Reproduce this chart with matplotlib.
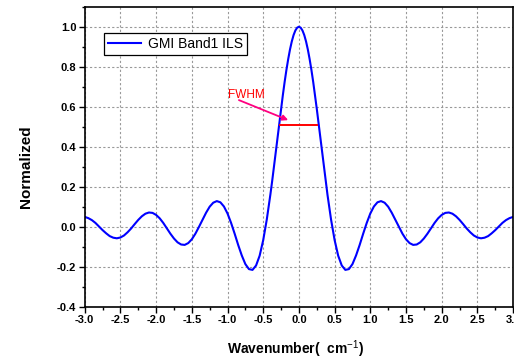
import numpy as np
import matplotlib
matplotlib.use("Agg")
import matplotlib.pyplot as plt
from matplotlib.ticker import MultipleLocator, FormatStrFormatter

plt.rcParams['font.family'] = ['Liberation Sans', 'DejaVu Sans']
plt.rcParams['mathtext.fontset'] = 'custom'
plt.rcParams['mathtext.rm'] = 'Liberation Sans'
plt.rcParams['mathtext.bf'] = 'Liberation Sans:bold'

# instrument line shape, sampled every 0.05 cm-1 from -3 to 3
wavenumber = np.linspace(-3.0, 3.0, 121)
ils = [0.049, 0.043, 0.033, 0.019, 0.001, -0.017, -0.033, -0.047, -0.055, -0.058,
       -0.054, -0.044, -0.028, -0.009, 0.013, 0.034, 0.052, 0.065, 0.071, 0.069,
       0.059, 0.042, 0.019, -0.008, -0.035, -0.059, -0.078, -0.089, -0.091, -0.082,
       -0.063, -0.035, -0.001, 0.035, 0.070, 0.100, 0.120, 0.128, 0.122, 0.101,
       0.066, 0.019, -0.035, -0.092, -0.144, -0.187, -0.212, -0.216, -0.194, -0.145,
       -0.067, 0.036, 0.160, 0.299, 0.445, 0.590, 0.724, 0.838, 0.926, 0.981,
       1.000,
       0.981, 0.926, 0.838, 0.724, 0.590, 0.445, 0.299, 0.160, 0.036, -0.067,
       -0.145, -0.194, -0.216, -0.212, -0.187, -0.144, -0.092, -0.035, 0.019, 0.066,
       0.101, 0.122, 0.128, 0.120, 0.100, 0.070, 0.035, -0.001, -0.035, -0.063,
       -0.082, -0.091, -0.089, -0.078, -0.059, -0.035, -0.008, 0.019, 0.042, 0.059,
       0.069, 0.071, 0.065, 0.052, 0.034, 0.013, -0.009, -0.028, -0.044, -0.054,
       -0.058, -0.055, -0.047, -0.033, -0.017, 0.001, 0.019, 0.033, 0.043, 0.049]

# extra samples on the central peak (in between the 0.05 grid)
peak_x = [-0.375, -0.325, -0.275, -0.225, -0.175, -0.125, -0.075, -0.025,
          0.025, 0.075, 0.125, 0.175, 0.225, 0.275, 0.325, 0.375]
peak_y = [0.227, 0.372, 0.518, 0.658, 0.784, 0.886, 0.958, 0.995,
          0.995, 0.958, 0.886, 0.784, 0.658, 0.518, 0.372, 0.227]

# FWHM marker
fwhm_x = [-0.26, 0.26]
fwhm_y = [0.51, 0.51]

x_all = np.concatenate([wavenumber, peak_x])
y_all = np.concatenate([ils, peak_y])
order = np.argsort(x_all)
x_all, y_all = x_all[order], y_all[order]

fig = plt.figure(figsize=(5.14, 3.59), dpi=100)
ax = fig.add_axes([0.1648, 0.1457, 0.8335, 0.8356])

ax.plot(x_all, y_all, color='#0000ff', lw=1.5, label='GMI Band1 ILS')
ax.plot(fwhm_x, fwhm_y, color='#ff0000', lw=1.4)
ax.annotate('', xy=(-0.15, 0.533), xytext=(-0.84, 0.633),
            arrowprops=dict(arrowstyle='-|>', color='#ff0080', lw=1.3,
                            mutation_scale=8, shrinkA=0, shrinkB=0))
ax.text(-0.735, 0.658, 'FWHM', color='#ff0000', fontsize=8.5,
        ha='center', va='center')

ax.set_xlim(-3.0, 3.0)
ax.set_ylim(-0.4, 1.1)
ax.xaxis.set_major_locator(MultipleLocator(0.5))
ax.xaxis.set_minor_locator(MultipleLocator(0.25))
ax.yaxis.set_major_locator(MultipleLocator(0.2))
ax.yaxis.set_minor_locator(MultipleLocator(0.1))
ax.xaxis.set_major_formatter(FormatStrFormatter('%.1f'))
ax.yaxis.set_major_formatter(FormatStrFormatter('%.1f'))

ax.grid(True, which='major', color='#999999', linestyle=(0, (2, 2)), lw=0.8)
ax.set_axisbelow(True)

for s in ax.spines.values():
    s.set_linewidth(1.2)

ax.tick_params(which='both', direction='out', width=1.0,
               top=False, right=False)
ax.tick_params(which='major', length=4)
ax.tick_params(which='minor', length=2.5)
for lab in ax.get_xticklabels() + ax.get_yticklabels():
    lab.set_fontweight('bold')
    lab.set_fontsize(8)
ax.tick_params(axis='both', pad=2)

ax.set_xlabel('Wavenumber(  cm$^{-1}$)', fontsize=10, fontweight='bold')
ax.set_ylabel('Normalized', fontsize=11, fontweight='bold')
ax.xaxis.set_label_coords(0.492, -0.105)
ax.yaxis.set_label_coords(-0.121, 0.467)

leg = ax.legend(loc='upper left', bbox_to_anchor=(0.044, 0.913),
                fontsize=10, frameon=True, fancybox=False, framealpha=1,
                edgecolor='black', borderpad=0.3, handlelength=2.4,
                handletextpad=0.5, borderaxespad=0)
leg.get_frame().set_linewidth(0.9)

fig.savefig('out.png', dpi=100)
